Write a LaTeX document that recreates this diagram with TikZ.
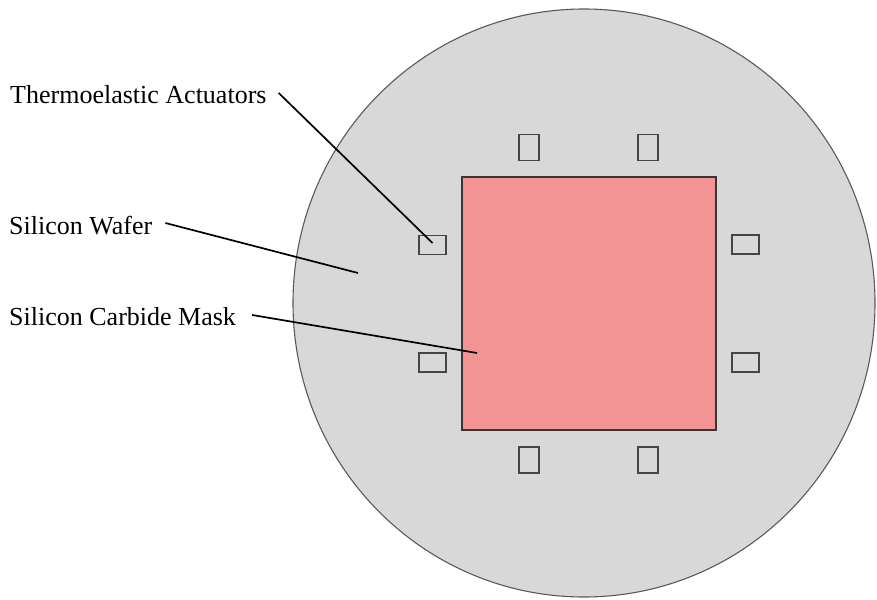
\documentclass[tikz,border=0pt]{standalone}
\usepackage{fontspec}
\setmainfont{Liberation Serif}
\usetikzlibrary{calc}
\definecolor{wafergrey}{HTML}{D8D8D8}
\definecolor{maskpink}{HTML}{F29494}
\definecolor{edgegrey}{HTML}{454545}
\definecolor{rimgrey}{HTML}{5A5A5A}
\begin{document}
\begin{tikzpicture}[x=1pt,y=-1pt,
  lbl/.style={anchor=base west, inner sep=0pt, font=\fontsize{26}{30}\selectfont},
  leader/.style={draw=black, line width=1.7pt},
  actbox/.style={draw=edgegrey, line width=1.8pt, fill=wafergrey, inner sep=0pt},
  hact/.style={actbox, minimum width=27pt, minimum height=19pt},
  vact/.style={actbox, minimum width=20pt, minimum height=26pt}]
\useasboundingbox (0,0) rectangle (877,599);

% wafer disc, clipped at the right edge of the page
\begin{scope}
  \clip (0,0) rectangle (877,599);
  \draw[fill=wafergrey, draw=rimgrey, line width=1.1pt]
    (584,303) ellipse [x radius=291, y radius=294];
\end{scope}

% silicon carbide mask
\node[draw=edgegrey!80!black, fill=maskpink, line width=1.6pt, inner sep=0pt,
      minimum width=254pt, minimum height=253pt] (mask) at (589,303.5) {};

% thermoelastic actuators around the mask
\node[hact] (actL1) at (432.5,245) {};
\node[hact] (actL2) at (432.5,362.5) {};
\node[hact] (actR1) at (745.5,244.5) {};
\node[hact] (actR2) at (745.5,362.5) {};
\node[vact] (actT1) at (529,147.5) {};
\node[vact] (actT2) at (648,147.5) {};
\node[vact] (actB1) at (529,460) {};
\node[vact] (actB2) at (648,460) {};

% labels
\node[lbl] (ta) at (10,103) {Thermoelastic Actuators};
\node[lbl] (sw) at (9,234) {Silicon Wafer};
\node[lbl] (scm) at (9,325) {Silicon Carbide Mask};

% leader end points
\coordinate (waferpt) at (358,273);
\coordinate (maskpt) at (477,353);
\coordinate (actpt) at ($(actL1.center)+(0,-2)$);

% leader lines
\draw[leader] ($(ta.base east)+(12,-10)$) -- (actpt);
\draw[leader] ($(sw.base east)+(13,-11)$) -- (waferpt);
\draw[leader] ($(scm.base east)+(16,-10)$) -- (maskpt);
\end{tikzpicture}
\end{document}
